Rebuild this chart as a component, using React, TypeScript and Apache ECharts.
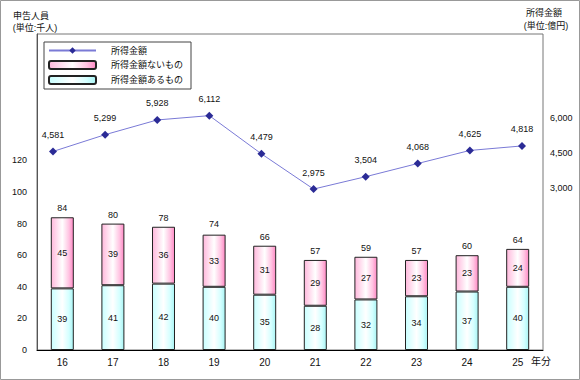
import React, { useEffect, useRef } from "react";
import * as echarts from "echarts";

const years = ["16", "17", "18", "19", "20", "21", "22", "23", "24", "25"];
const withIncome = [39, 41, 42, 40, 35, 28, 32, 34, 37, 40];
const withoutIncome = [45, 39, 36, 33, 31, 29, 27, 23, 23, 24];
const totals = [84, 80, 78, 74, 66, 57, 59, 57, 60, 64];
const incomeAmount = [4581, 5299, 5928, 6112, 4479, 2975, 3504, 4068, 4625, 4818];
const rightTicks = [3000, 4500, 6000];

const FONT = "'Liberation Sans', 'Noto Sans CJK JP', sans-serif";

export default function App() {
  const ref = useRef<HTMLDivElement>(null);
  useEffect(() => {
    if (!ref.current) return;
    const chart = echarts.init(ref.current, null, { renderer: "svg" });
    const pink = new echarts.graphic.LinearGradient(0, 0, 1, 0, [
      { offset: 0, color: "#ffb8dc" },
      { offset: 0.5, color: "#ffffff" },
      { offset: 0.8, color: "#ffc4e2" },
      { offset: 1, color: "#ff88c4" },
    ]);
    const cyan = new echarts.graphic.LinearGradient(0, 0, 1, 0, [
      { offset: 0, color: "#c8ffff" },
      { offset: 0.5, color: "#ffffff" },
      { offset: 0.8, color: "#d4ffff" },
      { offset: 1, color: "#a8f4f4" },
    ]);
    const txt = { fontFamily: FONT, fontSize: 9, color: "#111" };
    const gtxt = (text: string, x: number, y: number) => ({
      type: "text",
      x,
      y,
      silent: true,
      style: { text, align: "center", verticalAlign: "middle", fill: "#111", font: "9px " + FONT },
    });
    chart.setOption({
      animation: false,
      textStyle: { fontFamily: FONT },
      grid: {
        left: 37,
        right: 37,
        top: 34,
        bottom: 30,
        show: true,
        borderColor: "#777",
        borderWidth: 1,
        backgroundColor: "transparent",
      },
      legend: {
        orient: "vertical",
        left: 44,
        top: 42,
        itemWidth: 47,
        itemHeight: 8,
        itemGap: 5,
        padding: [4, 8, 4, 4],
        borderColor: "#444",
        borderWidth: 1,
        backgroundColor: "#fff",
        textStyle: { ...txt, padding: [0, 0, 0, 10] },
        data: ["所得金額", "所得金額ないもの", "所得金額あるもの"],
      },
      graphic: [
        {
          type: "rect",
          silent: true,
          shape: { x: 0.5, y: 0.5, width: 579, height: 379 },
          style: { fill: "none", stroke: "#999", lineWidth: 1 },
        },
        gtxt("申告人員", 31, 16),
        gtxt("(単位:千人)", 35, 28),
        gtxt("所得金額", 544, 13),
        gtxt("(単位:億円)", 546, 26),
      ],
      xAxis: [
        {
          type: "category",
          data: years,
          name: "年分",
          nameLocation: "end",
          nameGap: -12,
          nameTextStyle: { ...txt, fontSize: 10, verticalAlign: "top", padding: [7, 0, 0, 0] },
          axisLine: { lineStyle: { color: "#000" } },
          axisTick: { inside: true, length: 3, lineStyle: { color: "#000" } },
          axisLabel: { ...txt, fontSize: 10, margin: 7 },
        },
        {
          type: "value",
          min: -0.307,
          max: 9.403,
          show: false,
        },
      ],
      yAxis: [
        {
          type: "value",
          min: 0,
          max: 200,
          interval: 20,
          axisLine: { show: true, onZero: false, lineStyle: { color: "#555" } },
          axisTick: { show: false },
          splitLine: { show: false },
          axisLabel: {
            ...txt,
            fontSize: 9,
            margin: 10,
            formatter: (v: number) => (v <= 120 ? String(v) : ""),
          },
        },
        {
          type: "value",
          min: -3900,
          max: 9600,
          axisLine: { show: false, onZero: false },
          axisTick: { show: false },
          splitLine: { show: false },
          axisLabel: {
            ...txt,
            fontSize: 9,
            margin: 7,
            customValues: rightTicks,
            formatter: (v: number) => v.toLocaleString("en-US"),
          },
        },
      ],
      series: [
        {
          name: "所得金額あるもの",
          type: "bar",
          stack: "p",
          barWidth: 23,
          data: withIncome,
          itemStyle: { color: cyan, borderColor: "#222", borderWidth: 1 },
          label: { show: true, position: "inside", ...txt },
        },
        {
          name: "所得金額ないもの",
          type: "bar",
          stack: "p",
          barWidth: 23,
          data: withoutIncome,
          itemStyle: { color: pink, borderColor: "#222", borderWidth: 1 },
          label: { show: true, position: "inside", ...txt },
        },
        {
          name: "totals",
          type: "line",
          data: totals,
          symbol: "circle",
          symbolSize: 1,
          showSymbol: true,
          itemStyle: { color: "rgba(0,0,0,0)" },
          lineStyle: { opacity: 0 },
          silent: true,
          label: { show: true, position: "top", distance: 4, ...txt },
        },
        {
          name: "所得金額",
          type: "line",
          xAxisIndex: 1,
          yAxisIndex: 1,
          data: incomeAmount.map((v, i) => [i, v]),
          symbol: "diamond",
          symbolSize: 8,
          itemStyle: { color: "#2b2b96" },
          lineStyle: { color: "#7a7ad6", width: 1 },
          label: {
            show: true,
            position: "top",
            distance: 8,
            ...txt,
            formatter: (p: any) => Number(p.value[1]).toLocaleString("en-US"),
          },
        },
      ],
    });
    return () => chart.dispose();
  }, []);
  return (
    <div
      ref={ref}
      style={{ position: "absolute", left: 0, top: 0, width: 580, height: 380, background: "#fff" }}
    />
  );
}
